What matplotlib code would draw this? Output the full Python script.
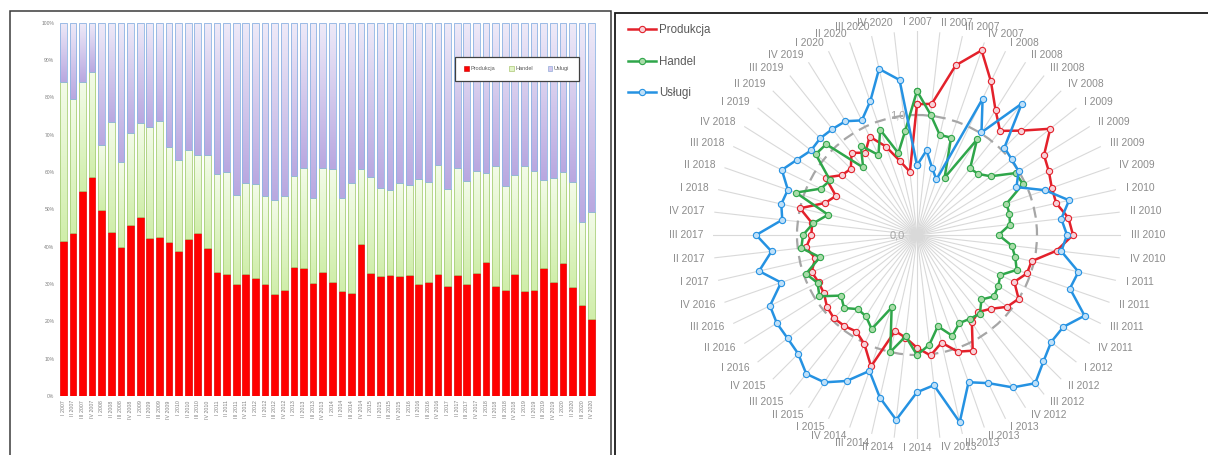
import numpy as np
import matplotlib
matplotlib.use("Agg")
import matplotlib.pyplot as plt
from matplotlib.colors import LinearSegmentedColormap
from matplotlib.patches import Rectangle, Patch

years = list(range(2007, 2021))
roman = ["I", "II", "III", "IV"]
quarters = [f"{q} {y}" for y in years for q in roman]

# udzialy w % (wykres slupkowy 100%)
produkcja = [41.5, 43.6, 54.9, 58.6, 49.9, 43.8, 40.0, 45.8, 48.0, 42.2, 42.5, 41.2, 38.9, 42.1,
             43.7, 39.6, 33.1, 32.7, 30.1, 32.6, 31.7, 29.9, 27.2, 28.3, 34.6, 34.2, 30.2, 33.2,
             30.6, 28.2, 27.7, 40.8, 33.0, 32.1, 32.3, 32.2, 32.3, 29.9, 30.5, 32.8, 29.6, 32.5,
             29.9, 33.0, 36.0, 29.5, 28.3, 32.6, 28.2, 28.3, 34.4, 30.5, 35.6, 29.1, 24.4, 20.7]
handel = [42.5, 35.9, 29.3, 28.2, 17.3, 29.6, 22.7, 24.7, 25.1, 29.9, 31.2, 25.4, 24.3, 23.8,
          20.9, 25.0, 26.3, 27.2, 23.8, 24.5, 25.1, 23.8, 25.3, 25.4, 24.3, 26.9, 22.8, 28.0,
          30.2, 24.8, 29.4, 19.9, 25.7, 23.6, 23.0, 24.9, 24.2, 28.1, 26.7, 29.1, 25.8, 28.7,
          27.6, 27.4, 23.7, 32.2, 28.0, 26.5, 33.5, 32.1, 23.5, 28.0, 24.3, 28.1, 22.3, 28.7]
uslugi = [16.0, 20.5, 15.8, 13.2, 32.8, 26.6, 37.3, 29.5, 26.9, 27.9, 26.3, 33.4, 36.8, 34.1,
          35.4, 35.4, 40.6, 40.1, 46.1, 42.9, 43.2, 46.3, 47.5, 46.3, 41.1, 38.9, 47.0, 38.8,
          39.2, 47.0, 42.9, 39.3, 41.3, 44.3, 44.7, 42.9, 43.5, 42.0, 42.8, 38.1, 44.6, 38.8,
          42.5, 39.6, 40.3, 38.3, 43.7, 40.9, 38.3, 39.6, 42.1, 41.5, 40.1, 42.8, 53.3, 50.6]

# wskazniki (wykres radarowy)
radar_produkcja = [1.09, 1.10, 1.45, 1.63, 1.42, 1.23, 1.11, 1.23, 1.42, 1.25, 1.22, 1.19, 1.19, 1.27,
                   1.30, 1.17, 0.98, 0.97, 0.90, 1.00, 0.96, 0.87, 0.82, 0.86, 1.07, 1.03, 0.92, 1.01,
                   0.94, 0.86, 0.82, 1.16, 1.01, 0.95, 0.97, 0.98, 0.96, 0.915, 0.91, 0.93, 0.87, 0.93,
                   0.88, 0.88, 1.00, 0.81, 0.75, 0.90, 0.80, 0.78, 0.875, 0.81, 0.91, 0.78, 0.63, 0.53]
radar_handel = [1.20, 1.01, 0.855, 0.86, 0.53, 0.94, 0.71, 0.72, 0.785, 0.97, 0.98, 0.79, 0.79, 0.78,
                0.68, 0.795, 0.84, 0.88, 0.77, 0.80, 0.82, 0.76, 0.84, 0.825, 0.815, 0.89, 0.78, 0.92,
                1.00, 0.85, 1.00, 0.64, 0.87, 0.80, 0.79, 0.86, 0.81, 0.96, 0.92, 0.98, 0.83, 0.97,
                0.95, 0.87, 0.76, 1.07, 0.89, 0.855, 1.08, 1.07, 0.72, 0.88, 0.74, 0.93, 0.70, 0.875]
radar_uslugi = [0.58, 0.71, 0.57, 0.49, 1.26, 1.01, 1.40, 1.03, 1.01, 1.00, 0.92, 1.13, 1.30, 1.21,
                1.25, 1.21, 1.38, 1.35, 1.55, 1.44, 1.43, 1.49, 1.58, 1.50, 1.37, 1.30, 1.60, 1.26,
                1.31, 1.55, 1.39, 1.20, 1.35, 1.45, 1.48, 1.40, 1.38, 1.38, 1.36, 1.20, 1.35, 1.22,
                1.34, 1.13, 1.16, 1.14, 1.25, 1.18, 1.13, 1.14, 1.13, 1.12, 1.06, 1.18, 1.42, 1.30]

W, H = 1208, 455
plt.rcParams['font.family'] = ['Liberation Sans', 'DejaVu Sans']
fig = plt.figure(figsize=(W / 100, H / 100), dpi=100)


def grad_bars(ax, bars, top_c, bottom_c, edge):
    cmap = LinearSegmentedColormap.from_list('g', [bottom_c, top_c])
    g = np.linspace(0, 1, 64).reshape(-1, 1)
    for p in bars:
        x0, y0, w, h = p.get_x(), p.get_y(), p.get_width(), p.get_height()
        ax.imshow(g, cmap=cmap, extent=[x0, x0 + w, y0, y0 + h], origin='lower',
                  aspect='auto', zorder=1, interpolation='bilinear')
        p.set_facecolor('none')
        p.set_edgecolor(edge)
        p.set_zorder(2)


# --- lewy panel: udzialy ---
ax = fig.add_axes([58.5 / W, 1 - 396 / H, 538 / W, (396 - 22.7) / H])
x = np.arange(len(quarters))
p = np.array(produkcja) / 100
h = np.array(handel) / 100
u = np.array(uslugi) / 100
ax.bar(x, p, 0.7, color='#FF0000', edgecolor='#E00000', linewidth=0.5, zorder=2)
bh = ax.bar(x, h, 0.7, bottom=p, linewidth=0.6)
bu = ax.bar(x, u, 0.7, bottom=p + h, linewidth=0.6)
grad_bars(ax, bh, '#F3FBE9', '#D0EEAA', '#A9D07A')
grad_bars(ax, bu, '#EEEAF8', '#B9A8E0', '#8EB4E3')
ax.set_xlim(-0.5, len(quarters) - 0.5)
ax.set_ylim(0, 1)
yt = np.arange(0, 1.01, 0.1)
ax.set_yticks(yt)
ax.set_yticklabels([f"{int(round(v * 100))}%" for v in yt])
ax.set_xticks(x)
ax.set_xticklabels(quarters, rotation=90)
ax.tick_params(axis='y', length=0, labelsize=3.6, colors='#7F7F7F', pad=3)
ax.tick_params(axis='x', length=0, labelsize=3.8, colors='#7F7F7F', pad=3)
for s in ax.spines.values():
    s.set_visible(False)
handles = [Patch(facecolor='#FF0000', edgecolor='#C00000', lw=0.4),
           Patch(facecolor='#E2F4C8', edgecolor='#9BBB59', lw=0.4),
           Patch(facecolor='#D3C8EE', edgecolor='#7F9FD3', lw=0.4)]
leg = ax.legend(handles, ['Produkcja', 'Handel', 'Usługi'], ncol=3, loc='center',
                bbox_to_anchor=(516.7 / W, 1 - 68.8 / H), bbox_transform=fig.transFigure,
                fontsize=4, handlelength=0.8, handleheight=0.8, handletextpad=0.3,
                columnspacing=2.6, borderpad=1.7, fancybox=False, framealpha=1,
                edgecolor='#404040', labelcolor='#595959')
leg.get_frame().set_linewidth(0.9)

# --- prawy panel: radar ---
R_PX = 204
cx, cy = 917, 235
pax = fig.add_axes([(cx - R_PX) / W, (H - cy - R_PX) / H, 2 * R_PX / W, 2 * R_PX / H],
                   projection='polar')
pax.set_theta_zero_location('N')
pax.set_theta_direction(-1)
theta = 2 * np.pi * np.arange(len(quarters)) / len(quarters)
rmax = 1.7
pax.set_ylim(0, rmax)
pax.set_xticks(theta)
pax.set_xticklabels([])
pax.set_yticks([1.0])
pax.set_yticklabels([])
pax.tick_params(length=0)
pax.xaxis.grid(True, color='#D9D9D9', lw=0.8)
pax.yaxis.grid(True, color='#A6A6A6', lw=1.6, ls=(0, (5, 3)))
pax.spines['polar'].set_visible(False)
pax.patch.set_alpha(0)

tt = np.append(theta, theta[0])
series = [(radar_produkcja, '#E3212B', '#F7D3D9', 'Produkcja'),
          (radar_handel, '#2FA64A', '#A9DBA9', 'Handel'),
          (radar_uslugi, '#2592E2', '#BFE0F8', 'Usługi')]
for vals, col, mfc, lab in series:
    v = np.append(vals, vals[0])
    pax.plot(tt, v, color=col, lw=1.8, marker='o', ms=4.5, mfc=mfc, mec=col,
             mew=0.8, label=lab, clip_on=False)

for th, lab in zip(theta, quarters):
    s, c = np.sin(th), np.cos(th)
    ha = 'center' if abs(s) < 1e-6 else ('left' if s > 0 else 'right')
    pax.annotate(lab, xy=(th, rmax), xytext=(7.2 * s, 6.5 * c), textcoords='offset points',
                 ha=ha, va='center', fontsize=7.4, color='#8C8C8C', annotation_clip=False)

for r, txt in [(0.0, '0,0'), (1.0, '1,0')]:
    pax.annotate(txt, xy=(0, r), xytext=(-8.5, 0), textcoords='offset points',
                 ha='right', va='center', fontsize=8, color='#A6A6A6')

pax.legend(loc='upper left', bbox_to_anchor=(628 / W, 1 - 24 / H), bbox_transform=fig.transFigure,
           frameon=False, fontsize=8.3, handlelength=2.4, handletextpad=0.3, labelspacing=1.7,
           borderpad=0, borderaxespad=0, labelcolor='#595959')

# ramki paneli
fig.add_artist(Rectangle((9.5 / W, -0.01), (611 - 9.5) / W, 1.01 - 10.5 / H,
                         transform=fig.transFigure, fill=False, ec='#3A3A3A', lw=1.1))
fig.add_artist(Rectangle((614.5 / W, -0.01), (1210 - 614.5) / W, 1.01 - 12.5 / H,
                         transform=fig.transFigure, fill=False, ec='#1A1A1A', lw=1.3))

fig.savefig('out.png', dpi=100)
